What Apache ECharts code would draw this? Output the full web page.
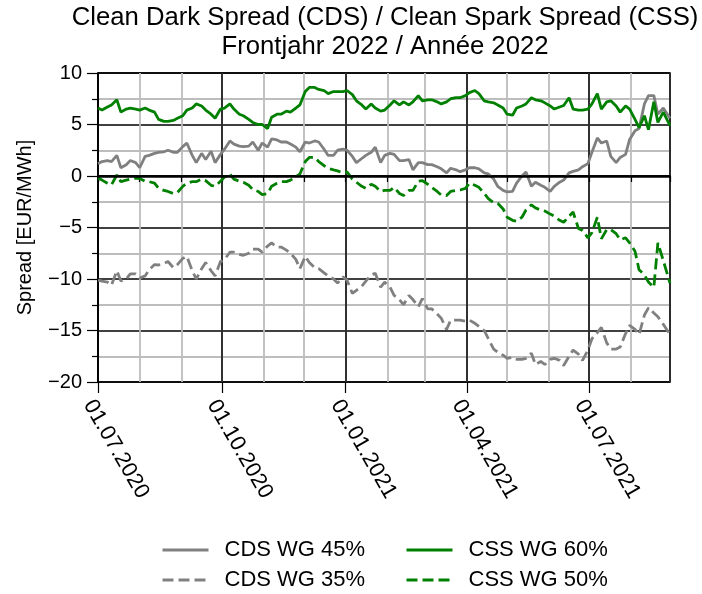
<!DOCTYPE html>
<html>
<head>
<meta charset="utf-8">
<script src="https://cdn.jsdelivr.net/npm/echarts@6/dist/echarts.min.js"></script>
<style>
  html, body { margin: 0; padding: 0; background: #fff; }
  #chart { width: 702px; height: 594px; }
</style>
</head>
<body>
<div id="chart"></div>
<script>
// Ablesedaten (Mi + Sa)
const dates = [
  "2020-07-01", "2020-07-04", "2020-07-08", "2020-07-11", "2020-07-15", "2020-07-18", "2020-07-22", "2020-07-25",
  "2020-07-29", "2020-08-01", "2020-08-05", "2020-08-08", "2020-08-12", "2020-08-15", "2020-08-19", "2020-08-22",
  "2020-08-26", "2020-08-29", "2020-09-02", "2020-09-05", "2020-09-09", "2020-09-12", "2020-09-16", "2020-09-19",
  "2020-09-23", "2020-09-26", "2020-09-30", "2020-10-03", "2020-10-07", "2020-10-10", "2020-10-14", "2020-10-17",
  "2020-10-21", "2020-10-24", "2020-10-28", "2020-10-31", "2020-11-04", "2020-11-07", "2020-11-11", "2020-11-14",
  "2020-11-18", "2020-11-21", "2020-11-25", "2020-11-28", "2020-12-02", "2020-12-05", "2020-12-09", "2020-12-12",
  "2020-12-16", "2020-12-19", "2020-12-23", "2020-12-26", "2020-12-30", "2021-01-02", "2021-01-06", "2021-01-09",
  "2021-01-13", "2021-01-16", "2021-01-20", "2021-01-23", "2021-01-27", "2021-01-30", "2021-02-03", "2021-02-06",
  "2021-02-10", "2021-02-13", "2021-02-17", "2021-02-20", "2021-02-24", "2021-02-27", "2021-03-03", "2021-03-06",
  "2021-03-10", "2021-03-13", "2021-03-17", "2021-03-20", "2021-03-24", "2021-03-27", "2021-03-31", "2021-04-03",
  "2021-04-07", "2021-04-10", "2021-04-14", "2021-04-17", "2021-04-21", "2021-04-24", "2021-04-28", "2021-05-01",
  "2021-05-05", "2021-05-08", "2021-05-12", "2021-05-15", "2021-05-19", "2021-05-22", "2021-05-26", "2021-05-29",
  "2021-06-02", "2021-06-05", "2021-06-09", "2021-06-12", "2021-06-16", "2021-06-19", "2021-06-23", "2021-06-26",
  "2021-06-30", "2021-07-03", "2021-07-07", "2021-07-10", "2021-07-14", "2021-07-17", "2021-07-21", "2021-07-24",
  "2021-07-28", "2021-07-31", "2021-08-04", "2021-08-07", "2021-08-11", "2021-08-14", "2021-08-18", "2021-08-21",
  "2021-08-25", "2021-08-30"
];

// CDS WG 45% (grau, durchgezogen)
const cds45 = [
  1.2, 1.4, 1.5, 1.4, 2.0, 0.8, 1.1, 1.5, 1.3, 0.8, 1.9, 2.0, 2.2, 2.3, 2.35, 2.5,
  2.3, 2.3, 2.85, 3.2, 2.0, 1.3, 2.2, 1.6, 2.4, 1.3, 2.1, 2.6, 3.4, 3.1, 2.9, 2.85,
  2.9, 3.3, 2.5, 3.2, 2.8, 3.6, 3.5, 3.3, 3.3, 3.1, 2.8, 2.35, 3.3, 3.2, 3.4, 3.3,
  2.6, 2.0, 2.0, 2.5, 2.6, 2.5, 1.9, 1.3, 1.7, 2.0, 2.3, 2.8, 1.3, 2.0, 2.2, 2.1,
  1.5, 1.5, 1.6, 0.6, 1.3, 1.3, 1.1, 1.1, 0.9, 0.7, 0.3, 0.75, 0.6, 0.42, 0.6, 0.8,
  0.8, 0.7, 0.3, 0.2, -0.3, -1.0, -1.4, -1.55, -1.5, -0.7, 0.0, 0.4, -1.0, -0.6, -0.9, -1.1,
  -1.5, -1.0, -0.6, -0.4, 0.3, 0.45, 0.6, 0.9, 1.2, 2.3, 3.7, 3.2, 3.4, 1.9, 1.3, 1.8,
  2.1, 3.55, 4.4, 4.6, 7.0, 7.8, 7.8, 6.0, 6.6, 5.6
];
// CSS WG 60% (grün, durchgezogen)
const css60 = [
  6.6, 6.4, 6.7, 6.9, 7.4, 6.2, 6.5, 6.6, 6.5, 6.4, 6.6, 6.4, 6.2, 5.5, 5.3, 5.3,
  5.4, 5.6, 5.85, 6.4, 6.6, 7.0, 6.8, 6.4, 6.0, 5.6, 6.5, 6.6, 7.0, 6.5, 6.0, 5.85,
  5.5, 5.2, 5.0, 5.0, 4.6, 5.7, 6.0, 6.0, 6.3, 6.2, 6.6, 6.9, 8.2, 8.6, 8.6, 8.4,
  8.3, 8.0, 8.2, 8.2, 8.2, 8.3, 7.9, 7.3, 6.9, 6.5, 7.0, 6.6, 6.3, 6.4, 6.9, 7.3,
  6.9, 7.2, 6.9, 7.2, 7.8, 7.3, 7.4, 7.4, 7.2, 7.0, 7.2, 7.5, 7.6, 7.6, 7.8, 8.1,
  8.3, 8.0, 7.3, 7.2, 7.1, 6.9, 6.6, 6.0, 5.9, 6.6, 6.8, 7.0, 7.6, 7.4, 7.3, 7.1,
  6.8, 6.5, 6.7, 6.85, 7.6, 6.5, 6.4, 6.4, 6.5, 7.0, 8.0, 6.5, 7.2, 7.3, 6.8, 6.2,
  6.8, 6.5, 5.5, 4.7, 5.85, 4.5, 7.2, 5.2, 6.2, 4.9
];
// CDS WG 35% (grau, gestrichelt)
const cds35 = [
  -10.1, -10.2, -10.3, -10.6, -9.2, -10.2, -10.0, -9.5, -9.5, -9.9, -9.7, -9.1, -8.6, -8.64, -8.5, -8.3,
  -8.9, -8.6, -8.0, -7.8, -9.2, -10.0, -9.0, -8.4, -9.2, -9.7, -8.3, -8.1, -7.4, -7.4, -7.6, -7.7,
  -7.5, -7.1, -7.1, -7.4, -6.8, -6.5, -6.9, -6.9, -7.2, -7.5, -8.1, -9.0, -7.8, -8.4, -8.9, -9.0,
  -9.4, -9.7, -10.0, -10.4, -9.8, -10.1, -11.4, -11.1, -10.7, -10.2, -9.6, -9.45, -10.8, -10.3, -10.8, -11.6,
  -12.0, -12.5, -11.6, -12.0, -12.7, -11.9, -12.9, -12.9, -13.4, -13.8, -14.9, -14.0, -14.0, -14.0, -14.1, -14.0,
  -14.3, -14.6, -15.0, -15.8, -16.8, -17.1, -17.4, -17.7, -17.6, -17.8, -17.8, -17.7, -17.2, -18.3, -18.0, -18.3,
  -17.8, -17.7, -17.9, -18.4, -17.5, -16.9, -17.3, -17.9, -16.9, -15.8, -15.2, -14.7, -16.2, -16.8, -16.8, -16.6,
  -15.3, -14.5, -14.9, -15.4, -13.5, -12.8, -13.3, -13.66, -14.4, -15.4
];
// CSS WG 50% (grün, gestrichelt)
const css50 = [
  -0.2, -0.4, -0.7, -0.87, 0.1, -0.55, -0.4, -0.3, -0.2, -0.25, -0.5, -0.55, -0.7, -1.2, -1.4, -1.5,
  -1.7, -1.6, -1.0, -0.7, -0.55, -0.55, -0.3, -0.45, -0.9, -1.0, -0.5, -0.1, 0.2, -0.3, -0.5, -0.6,
  -0.9, -1.3, -1.5, -1.8, -1.7, -1.0, -0.7, -0.55, -0.55, -0.4, -0.1, 0.2, 1.4, 1.8, 1.8, 1.4,
  1.0, 0.75, 0.6, 0.5, 0.3, 0.4, -0.3, -0.6, -1.0, -1.2, -0.8, -1.0, -1.5, -1.4, -1.4, -1.1,
  -1.7, -1.9, -1.4, -1.4, -0.5, -0.45, -0.8, -1.1, -1.5, -1.85, -1.9, -1.5, -1.4, -1.36, -1.2, -0.7,
  -0.9, -1.1, -1.7, -2.2, -2.6, -2.65, -3.2, -4.0, -4.3, -4.4, -4.0, -3.3, -2.8, -3.1, -3.3, -3.4,
  -3.7, -3.9, -4.3, -4.5, -3.9, -3.5, -5.1, -5.3, -6.0, -5.5, -4.0, -6.1, -5.2, -5.2, -5.6, -6.2,
  -6.0, -6.5, -7.3, -9.1, -9.6, -10.3, -10.8, -6.5, -8.2, -10.4
];

const yTicks = [-20, -15, -10, -5, 0, 5, 10];

const FONT = "Liberation Sans, Arial, sans-serif";
const GREEN = "#008000";
const GREY = "#808080";
const MINOR = "#bdbdbd";
const DAY = 86400000;

function pairs(vals) {
  return dates.map((d, i) => [d, vals[i]]);
}

function fmtDate(v) {
  const d = new Date(v);
  const dd = String(d.getDate()).padStart(2, "0");
  const mm = String(d.getMonth() + 1).padStart(2, "0");
  return dd + "." + mm + "." + d.getFullYear();
}

function lineSeries(name, vals, color, dashed) {
  return {
    name: name,
    type: "line",
    data: pairs(vals),
    symbol: "none",
    showSymbol: false,
    lineStyle: { color: color, width: 2.8, type: dashed ? [11, 5] : "solid" },
    itemStyle: { color: color }
  };
}

function legendAt(name, left, top) {
  return {
    data: [name],
    left: left,
    top: top,
    padding: 0,
    itemWidth: 46,
    itemHeight: 22,
    itemStyle: { opacity: 0 },
    lineStyle: { width: 3 },
    textStyle: { fontSize: 22, fontFamily: FONT, color: "#000", padding: [0, 0, 0, 11] }
  };
}

const chart = echarts.init(document.getElementById("chart"), null, { renderer: "canvas" });

chart.setOption({
  backgroundColor: "#fff",
  animation: false,
  title: {
    text: "Clean Dark Spread (CDS) / Clean Spark Spread (CSS)\nFrontjahr 2022 / Année 2022",
    left: 385,
    top: 3,
    padding: 0,
    textAlign: "center",
    textStyle: { fontSize: 25.7, fontWeight: "normal", fontFamily: FONT, color: "#000", lineHeight: 29 }
  },
  legend: [
    legendAt("CDS WG 45%", 161, 539),
    legendAt("CSS WG 60%", 405, 539),
    legendAt("CDS WG 35%", 161, 569),
    legendAt("CSS WG 50%", 405, 569)
  ],
  grid: {
    left: 98, right: 32, top: 73, bottom: 212,
    show: true, borderColor: "#000", borderWidth: 1.5, backgroundColor: "transparent"
  },
  xAxis: [
    {
      // Monatsraster (grau)
      type: "time",
      min: "2020-07-01",
      max: "2021-08-30",
      minInterval: 30.5 * DAY,
      maxInterval: 30.5 * DAY,
      axisLine: { lineStyle: { color: "#000", width: 1.5 } },
      axisTick: { show: true, length: 6, lineStyle: { color: "#000", width: 1.2 } },
      axisLabel: { show: false },
      splitLine: { show: true, lineStyle: { color: MINOR, width: 1.8 } }
    },
    {
      // Quartale (schwarz, beschriftet)
      type: "time",
      position: "bottom",
      min: "2020-07-01",
      max: "2021-08-30",
      minInterval: 92 * DAY,
      maxInterval: 92 * DAY,
      axisLine: { show: false },
      axisTick: { show: true, length: 11, lineStyle: { color: "#000", width: 1.2 } },
      splitLine: { show: true, lineStyle: { color: "#000", width: 1.5 } },
      axisLabel: {
        rotate: -60,
        margin: 14,
        verticalAlign: "top",
        fontSize: 22,
        fontFamily: FONT,
        color: "#000",
        formatter: (v) => fmtDate(v)
      }
    }
  ],
  yAxis: {
    type: "value",
    min: yTicks[0],
    max: yTicks[yTicks.length - 1],
    interval: 5,
    name: "Spread [EUR/MWh]",
    nameLocation: "middle",
    nameGap: 63,
    nameTextStyle: { fontSize: 20, fontFamily: FONT, color: "#000" },
    axisLine: { show: true, lineStyle: { color: "#000", width: 1.5 } },
    axisTick: { show: true, length: 11, lineStyle: { color: "#000", width: 1.2 } },
    minorTick: { show: true, splitNumber: 2, length: 6, lineStyle: { color: "#000", width: 1.2 } },
    axisLabel: {
      fontSize: 20, fontFamily: FONT, color: "#000", margin: 16,
      formatter: (v) => String(v).replace("-", "\u2212")
    },
    splitLine: { show: true, lineStyle: { color: "#000", width: 1.5 } },
    minorSplitLine: { show: true, lineStyle: { color: MINOR, width: 1.8 } }
  },
  series: [
    Object.assign(lineSeries("CDS WG 45%", cds45, GREY, false), {
      markLine: {
        silent: true,
        symbol: "none",
        label: { show: false },
        lineStyle: { color: "#000", width: 2.5, type: "solid" },
        data: [{ yAxis: 0 }]
      }
    }),
    lineSeries("CSS WG 60%", css60, GREEN, false),
    lineSeries("CDS WG 35%", cds35, GREY, true),
    lineSeries("CSS WG 50%", css50, GREEN, true)
  ]
});
</script>
</body>
</html>
